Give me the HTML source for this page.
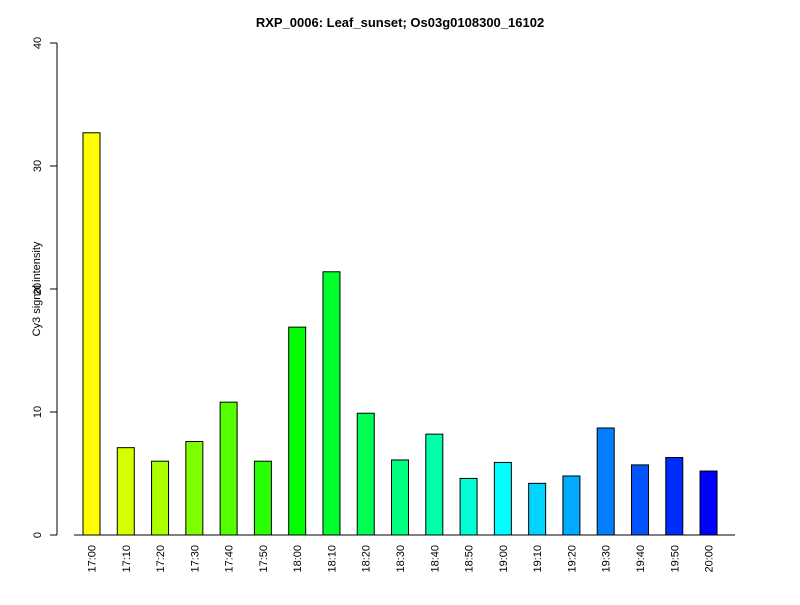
<!DOCTYPE html>
<html><head><meta charset="utf-8"><style>
body{margin:0;background:#fff}
svg text{font-family:"Liberation Sans",sans-serif}
</style></head><body>
<svg id="chart" width="800" height="600" xmlns="http://www.w3.org/2000/svg">
<text x="400" y="27" text-anchor="middle" font-size="13" font-weight="bold">RXP_0006: Leaf_sunset; Os03g0108300_16102</text>
<text transform="translate(40,289) rotate(-90)" text-anchor="middle" font-size="11">Cy3 signal intensity</text>
<g id="bars"></g><g id="yaxis"></g><g id="xlabels"></g>
</svg>
<script>
const categories=["17:00","17:10","17:20","17:30","17:40","17:50","18:00","18:10","18:20","18:30","18:40","18:50","19:00","19:10","19:20","19:30","19:40","19:50","20:00"];
const values=[32.7,7.1,6.0,7.6,10.8,6.0,16.9,21.4,9.9,6.1,8.2,4.6,5.9,4.2,4.8,8.7,5.7,6.3,5.2];
const yTicks=[0,10,20,30,40];
const NS="http://www.w3.org/2000/svg";
const y0=535,y1=43,yMax=40;
function yScale(v){return y0-(v/yMax)*(y0-y1);}
const step=34.28,first=91.5,bw=17;
function xCenter(i){return first+i*step;}
const bars=document.getElementById('bars');
const base=document.createElementNS(NS,'line');


base.setAttribute('x1',74);base.setAttribute('x2',735);base.setAttribute('y1',y0);base.setAttribute('y2',y0);base.setAttribute('stroke','#000');
bars.appendChild(base);
values.forEach((v,i)=>{
 const r=document.createElementNS(NS,'rect');
 
 
 const hue=60+180*i/(values.length-1);
 r.setAttribute('x',xCenter(i)-bw/2);r.setAttribute('y',yScale(v));
 r.setAttribute('width',bw);r.setAttribute('height',y0-yScale(v));
 r.setAttribute('fill','hsl('+hue+',100%,50%)');r.setAttribute('stroke','#000');r.setAttribute('stroke-width','1');
 bars.appendChild(r);
 const t=document.createElementNS(NS,'text');
 
 
 t.setAttribute('transform','translate('+(xCenter(i)+4)+',545) rotate(-90)');
 t.setAttribute('text-anchor','end');t.setAttribute('font-size','11');
 t.textContent=categories[i];
 document.getElementById('xlabels').appendChild(t);
});
const ya=document.getElementById('yaxis');
const al=document.createElementNS(NS,'line');


al.setAttribute('x1',57);al.setAttribute('x2',57);al.setAttribute('y1',yScale(0));al.setAttribute('y2',yScale(40));al.setAttribute('stroke','#000');
ya.appendChild(al);
yTicks.forEach(t=>{
 const l=document.createElementNS(NS,'line');
 
 
 l.setAttribute('x1',50);l.setAttribute('x2',57);l.setAttribute('y1',yScale(t));l.setAttribute('y2',yScale(t));l.setAttribute('stroke','#000');
 ya.appendChild(l);
 const tx=document.createElementNS(NS,'text');
 
 
 tx.setAttribute('transform','translate(41,'+yScale(t)+') rotate(-90)');
 tx.setAttribute('text-anchor','middle');tx.setAttribute('font-size','11');
 tx.textContent=t;
 ya.appendChild(tx);
});
</script>
</body></html>
